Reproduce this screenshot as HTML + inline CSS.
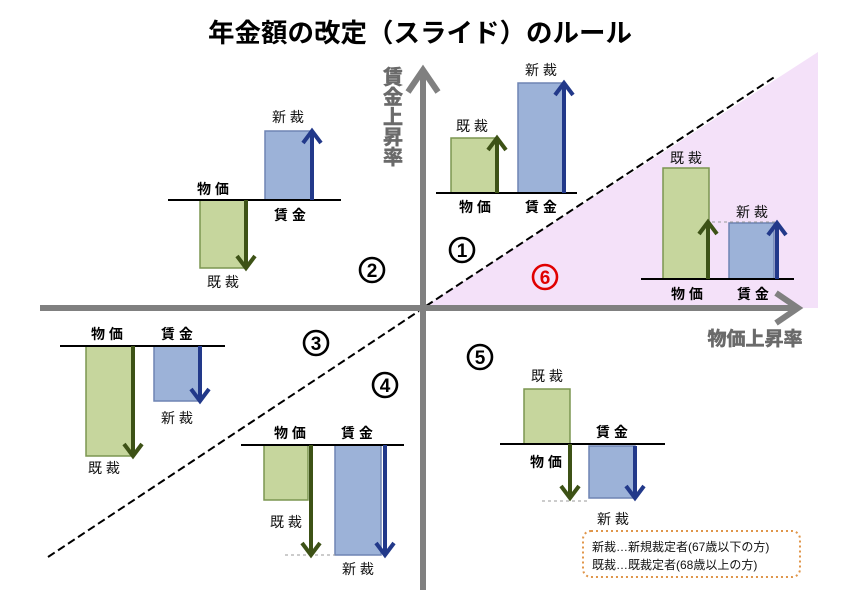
<!DOCTYPE html>
<html><head><meta charset="utf-8"><style>
html,body{margin:0;padding:0;background:#fff;}
svg{display:block;font-family:"Liberation Sans","Noto Sans CJK JP",sans-serif;}
.l{font-size:14px;fill:#111;}
.b{font-size:14px;font-weight:bold;fill:#000;}
.n{font-size:19px;font-weight:bold;fill:#000;}
</style></head><body>
<svg width="841" height="595" viewBox="0 0 841 595" xmlns="http://www.w3.org/2000/svg">
<rect width="841" height="595" fill="#fff"/>
<text x="420" y="42" text-anchor="middle" font-size="26" font-weight="bold" textLength="424" lengthAdjust="spacingAndGlyphs">年金額の改定（スライド）のルール</text>
<polygon points="423,308 818,52 818,308" fill="#f4e1f9"/>
<line x1="426" y1="306" x2="776" y2="76" stroke="#000" stroke-width="2" stroke-dasharray="8,4"/>
<line x1="48" y1="557" x2="419" y2="311" stroke="#000" stroke-width="2" stroke-dasharray="8,4"/>
<line x1="40" y1="308" x2="798" y2="308" stroke="#808080" stroke-width="6"/>
<polyline points="776,293 798,308 776,323" fill="none" stroke="#808080" stroke-width="6"/>
<line x1="423" y1="590" x2="423" y2="70" stroke="#808080" stroke-width="6"/>
<polyline points="408,92 423,70 438,92" fill="none" stroke="#808080" stroke-width="6"/>
<g font-size="20" font-weight="bold" fill="#6a6a6a" text-anchor="middle" stroke="#6a6a6a" stroke-width="0.6">
<text x="393" y="84">賃</text><text x="393" y="104">金</text><text x="393" y="124">上</text><text x="393" y="144">昇</text><text x="393" y="164">率</text>
</g>
<text x="755" y="345" text-anchor="middle" font-size="19" font-weight="bold" fill="#6a6a6a" stroke="#6a6a6a" stroke-width="0.6">物価上昇率</text>

<g stroke-width="1.5">
<rect x="451" y="138" width="45" height="55" fill="#c6d69d" stroke="#7b9650"/>
<rect x="518" y="83" width="47" height="110" fill="#9cb2d8" stroke="#6e84b4"/>
<rect x="663" y="168" width="46" height="111" fill="#c6d69d" stroke="#7b9650"/>
<rect x="729" y="223" width="45" height="56" fill="#9cb2d8" stroke="#6e84b4"/>
<rect x="200" y="200" width="45" height="68" fill="#c6d69d" stroke="#7b9650"/>
<rect x="265" y="131" width="46" height="69" fill="#9cb2d8" stroke="#6e84b4"/>
<rect x="86" y="346" width="46" height="110" fill="#c6d69d" stroke="#7b9650"/>
<rect x="154" y="346" width="46" height="55" fill="#9cb2d8" stroke="#6e84b4"/>
<rect x="264" y="445" width="44" height="55" fill="#c6d69d" stroke="#7b9650"/>
<rect x="335" y="445" width="46" height="110" fill="#9cb2d8" stroke="#6e84b4"/>
<rect x="524" y="389" width="46" height="55" fill="#c6d69d" stroke="#7b9650"/>
<rect x="589" y="446" width="46" height="52" fill="#9cb2d8" stroke="#6e84b4"/>
</g>
<g stroke="#000" stroke-width="2">
<line x1="436" y1="193" x2="577" y2="193"/>
<line x1="641" y1="279" x2="794" y2="279"/>
<line x1="168" y1="200" x2="341" y2="200"/>
<line x1="60" y1="346" x2="225" y2="346"/>
<line x1="241" y1="445" x2="404" y2="445"/>
<line x1="500" y1="444" x2="665" y2="444"/>
</g>
<g stroke="#999" stroke-width="1" stroke-dasharray="3,3">
<line x1="712" y1="222" x2="776" y2="222"/>
<line x1="285" y1="555" x2="335" y2="555"/>
<line x1="542" y1="501" x2="590" y2="501"/>
</g>
<g fill="none" stroke-width="4">
<g stroke="#3d5216">
<line x1="497" y1="193" x2="497" y2="140"/><polyline points="488,150 497,138 506,150"/>
<line x1="708" y1="279" x2="708" y2="224"/><polyline points="699,234 708,222 717,234"/>
<line x1="246" y1="200" x2="246" y2="266"/><polyline points="237,256 246,268 255,256"/>
<line x1="133" y1="346" x2="133" y2="454"/><polyline points="124,444 133,456 142,444"/>
<line x1="311" y1="445" x2="311" y2="553"/><polyline points="302,543 311,555 320,543"/>
<line x1="570" y1="444" x2="570" y2="496"/><polyline points="561,486 570,498 579,486"/>
</g>
<g stroke="#22398a">
<line x1="564" y1="193" x2="564" y2="85"/><polyline points="555,95 564,83 573,95"/>
<line x1="777" y1="279" x2="777" y2="225"/><polyline points="768,235 777,223 786,235"/>
<line x1="312" y1="200" x2="312" y2="133"/><polyline points="303,143 312,131 321,143"/>
<line x1="200" y1="346" x2="200" y2="399"/><polyline points="191,389 200,401 209,389"/>
<line x1="385" y1="445" x2="385" y2="553"/><polyline points="376,543 385,555 394,543"/>
<line x1="635" y1="446" x2="635" y2="496"/><polyline points="626,486 635,498 644,486"/>
</g>
</g>
<g text-anchor="middle">
<text class="l" x="472" y="131">既 裁</text><text class="l" x="541" y="75">新 裁</text>
<text class="b" x="475" y="212">物 価</text><text class="b" x="541" y="212">賃 金</text>
<text class="l" x="686" y="163">既 裁</text><text class="l" x="752" y="217">新 裁</text>
<text class="b" x="687" y="299">物 価</text><text class="b" x="753" y="299">賃 金</text>
<text class="l" x="288" y="122">新 裁</text><text class="b" x="213" y="194">物 価</text>
<text class="b" x="290" y="220">賃 金</text><text class="l" x="223" y="287">既 裁</text>
<text class="b" x="107" y="339">物 価</text><text class="b" x="177" y="339">賃 金</text>
<text class="l" x="177" y="423">新 裁</text><text class="l" x="104" y="473">既 裁</text>
<text class="b" x="290" y="438">物 価</text><text class="b" x="357" y="438">賃 金</text>
<text class="l" x="286" y="527">既 裁</text><text class="l" x="358" y="574">新 裁</text>
<text class="l" x="547" y="381">既 裁</text><text class="b" x="612" y="437">賃 金</text>
<text class="b" x="546" y="467">物 価</text><text class="l" x="613" y="524">新 裁</text>
</g>
<g fill="none" stroke-width="2.6">
<circle cx="462" cy="250" r="12" stroke="#000"/>
<circle cx="372" cy="270" r="12" stroke="#000"/>
<circle cx="316" cy="343" r="12" stroke="#000"/>
<circle cx="385" cy="385" r="12" stroke="#000"/>
<circle cx="480" cy="357" r="12" stroke="#000"/>
<circle cx="545" cy="277" r="12" stroke="#e00000"/>
</g>
<g text-anchor="middle">
<text class="n" x="462" y="257">1</text>
<text class="n" x="372" y="277">2</text>
<text class="n" x="316" y="350">3</text>
<text class="n" x="385" y="392">4</text>
<text class="n" x="480" y="364">5</text>
<text class="n" x="545" y="284" style="fill:#e00000">6</text>
</g>
<rect x="583" y="531" width="217" height="46" rx="8" fill="#fff" stroke="#e0964a" stroke-width="2" stroke-dasharray="2,3"/>
<text x="592" y="551" font-size="12" fill="#111">新裁…新規裁定者(67歳以下の方)</text>
<text x="592" y="569" font-size="12" fill="#111">既裁…既裁定者(68歳以上の方)</text>
</svg>
</body></html>
